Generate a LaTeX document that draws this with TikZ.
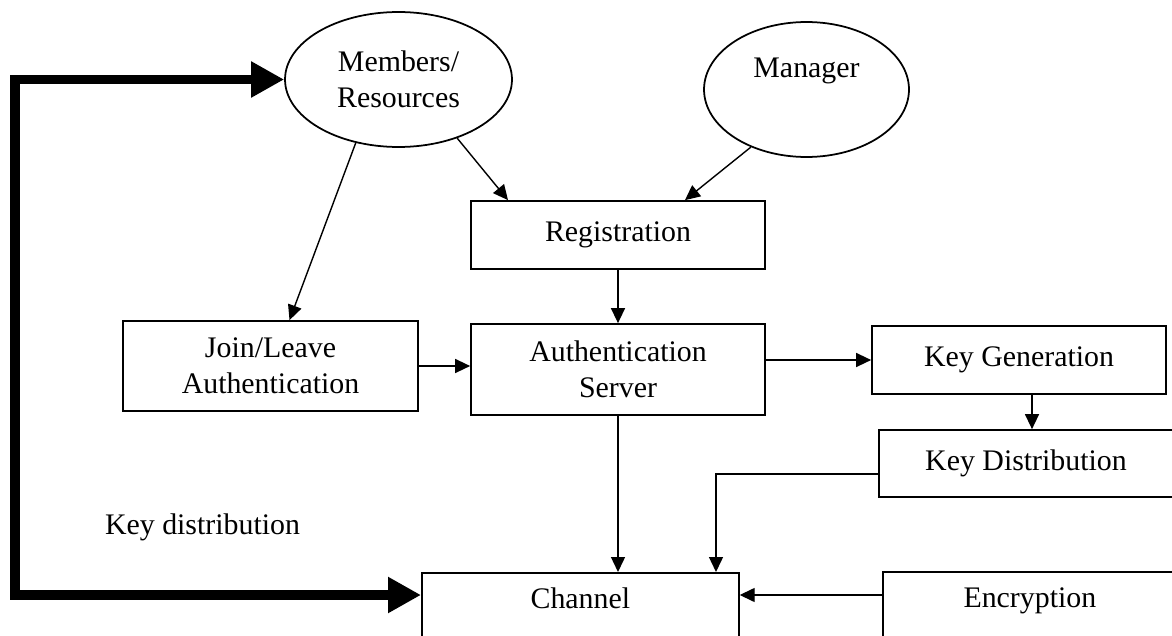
\documentclass[tikz,border=0pt]{standalone}
\usepackage{fontspec}
\setmainfont{Liberation Serif}
\usetikzlibrary{arrows.meta,shapes.geometric}
\begin{document}
\begin{tikzpicture}
		[x=0.02cm, y=-0.02cm,
		every node/.style={font=\fontsize{17}{20.5}\selectfont, align=center, inner sep=1pt, line width=1pt},
		proc/.style={rectangle, draw},
		actor/.style={ellipse, draw},
		link/.style={-{Triangle[length=0.3cm, width=0.28cm]}, line width=0.8pt},
		keyline/.style={{Triangle[length=0.66cm, width=0.68cm]}-{Triangle[length=0.66cm, width=0.68cm]}, line width=0.2cm}]
		\useasboundingbox (0,0) rectangle (1172,635);
		\clip (0,0) rectangle (1172,635);
		
		\node[actor, minimum width=4.54cm, minimum height=2.7cm] (mem) at (398.5,79.5) {Members/\\Resources};
		\node[actor, minimum width=4.1cm, minimum height=2.7cm, text height=0.42cm, text depth=0.92cm] (mgr) at (806.5,89.5) {Manager};
		\node[proc, minimum width=5.88cm, minimum height=1.36cm] (reg) at (618,235) {Registration};
		\node[proc, minimum width=5.9cm, minimum height=1.8cm] (join) at (270.5,366) {Join/Leave\\Authentication};
		\node[proc, minimum width=5.88cm, minimum height=1.82cm] (auth) at (618,369.5) {Authentication\\Server};
		\node[proc, minimum width=5.88cm, minimum height=1.36cm] (keygen) at (1019,360) {Key Generation};
		\node[proc, minimum width=5.88cm, minimum height=1.34cm] (keydist) at (1026,463.5) {Key Distribution};
		\node[proc, anchor=north west, minimum width=6.34cm, inner ysep=0.3cm, text height=0.42cm, text depth=1cm] (chan) at (421,572) {Channel};
		\node[proc, anchor=north west, minimum width=5.88cm, inner ysep=0.3cm, text height=0.42cm, text depth=1cm] (enc) at (882,571) {Encryption};
		\node (kdtext) at (202.5,527) {Key distribution};
		
		\coordinate (corner) at (15,595);
		\coordinate (kgout) at ([xshift=0.26cm]keygen.south);
		\coordinate (bend) at (716,474);
		\coordinate (encport) at ([yshift=-0.48cm]enc.north west);
		
		\draw[keyline] (mem.west) -| (corner) -- (corner -| chan.west);
		\draw[link] (mem.236) -- ([xshift=0.38cm]join.north);
		\draw[link] (mem.-45) -- ([xshift=-2.2cm]reg.north);
		\draw[link] (mgr.226) -- ([xshift=1.34cm]reg.north);
		\draw[link] (reg.south) -- (auth.north);
		\draw[link] (join.east) -- (join.east -| auth.west);
		\draw[link] (auth.east |- keygen.west) -- (keygen.west);
		\draw[link] (kgout) -- (kgout |- keydist.north);
		\draw[link] (auth.south) -- (auth.south |- chan.north);
		\draw[link] (keydist.west |- bend) -- (bend) -- (bend |- chan.north);
		\draw[link] (encport) -- (encport -| chan.east);
\end{tikzpicture}
\end{document}
